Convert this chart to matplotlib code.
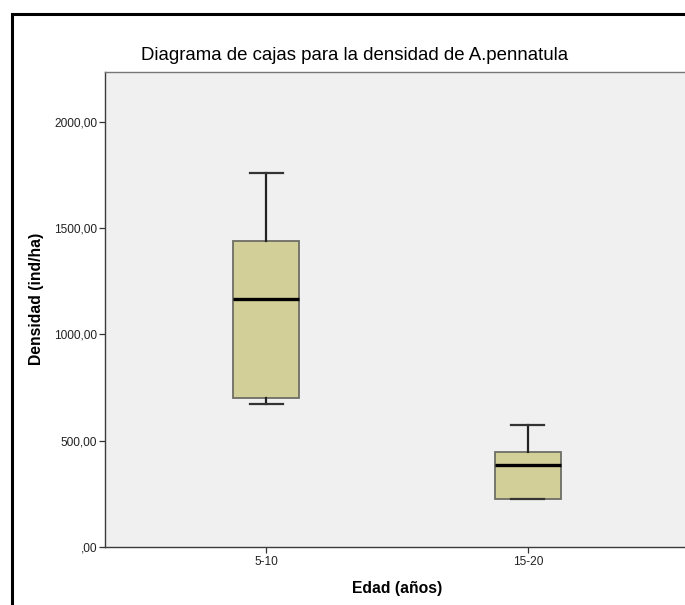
import matplotlib
matplotlib.use("Agg")
import matplotlib.pyplot as plt
from matplotlib.patches import Rectangle
from matplotlib.ticker import FuncFormatter

plt.rcParams['font.family'] = ['Liberation Sans', 'DejaVu Sans']

# Data
categories = ["5-10", "15-20"]
whisker_low = [673, 225]
q1 = [702, 226]
median = [1167, 384]
q3 = [1438, 447]
whisker_high = [1758, 575]
y_ticks = [0, 500, 1000, 1500, 2000]

title = "Diagrama de cajas para la densidad de A.pennatula"
xlabel = "Edad (años)"
ylabel = "Densidad (ind/ha)"

W, H = 685, 605
fig = plt.figure(figsize=(W / 100, H / 100), dpi=100)
fig.patch.set_facecolor("white")

# outer frame
fig.patches.append(Rectangle((12 / W, -0.1), 1.2, 1 - 14 / H + 0.1,
                             transform=fig.transFigure, fill=False,
                             edgecolor="black", linewidth=2.2, zorder=0))

ax = fig.add_axes([105 / W, (H - 547) / H, (689 - 105) / W, (547 - 72) / H])
ax.set_facecolor("#F0F0F0")

stats = []
for i, c in enumerate(categories):
    stats.append(dict(label=c, whislo=whisker_low[i], q1=q1[i], med=median[i],
                      q3=q3[i], whishi=whisker_high[i], fliers=[]))

ax.bxp(stats, positions=[1, 2], widths=0.253, patch_artist=True,
       showfliers=False,
       boxprops=dict(facecolor="#D3CF98", edgecolor="#6E6E66", linewidth=1.3),
       medianprops=dict(color="black", linewidth=2.4),
       whiskerprops=dict(color="#222222", linewidth=1.6),
       capprops=dict(color="#333333", linewidth=1.6),
       capwidths=0.126)

ax.set_xlim(0.385, 2.615)
ax.set_ylim(0, 2233)
ax.set_yticks(y_ticks)
ax.yaxis.set_major_formatter(FuncFormatter(
    lambda v, p: ("%.2f" % v).replace(".", ",") if v != 0 else ",00"))
ax.set_xticks([1, 2])
ax.set_xticklabels(categories)

for s in ["left", "bottom", "top"]:
    ax.spines[s].set_color("#3C3C3C")
    ax.spines[s].set_linewidth(1.0)
ax.spines["top"].set_color("#777777")
ax.spines["right"].set_visible(False)

ax.tick_params(axis="y", length=4.3, width=0.9, pad=1.5, labelsize=8.6,
               color="#333333", labelcolor="#222222")
ax.tick_params(axis="x", length=4.3, width=0.9, pad=2.5, labelsize=8.6,
               color="#333333", labelcolor="#222222")

fig.text(355 / W, 1 - 56 / H, title, ha="center", va="center", fontsize=13.4,
         color="black")
fig.text(397 / W, 1 - 589 / H, xlabel, ha="center", va="center",
         fontsize=11.3, fontweight="bold")
fig.text(36.5 / W, 1 - 299 / H, ylabel, ha="center", va="center",
         fontsize=11.3, fontweight="bold", rotation=90)

fig.savefig("out.png", dpi=100)
